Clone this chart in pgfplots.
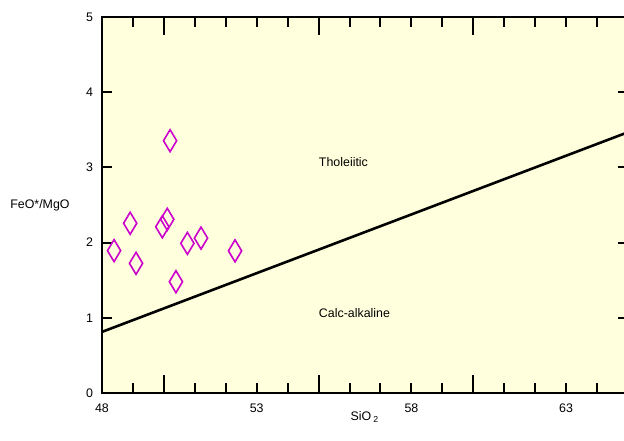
\documentclass[border=0pt]{standalone}
\usepackage{fontspec}
\setmainfont{Liberation Sans}
\usepackage{pgfplots}
\pgfplotsset{compat=1.18}
\definecolor{bgy}{RGB}{255,255,221}
\definecolor{mag}{RGB}{204,0,204}
\begin{document}
\begin{tikzpicture}
\useasboundingbox (0,0) rectangle (312bp,220.5bp);
\begin{axis}[
  at={(51bp,24bp)}, anchor=south west,
  width=263bp, height=188bp, scale only axis,
  xmin=48, xmax=65, ymin=0, ymax=5,
  axis background/.style={fill=bgy},
  axis line style={line width=1bp, black},
  every tick/.style={line width=1bp, black},
  tick align=inside,
  major tick length=5bp,
  xtick={48,...,65},
  xticklabels={48,,,,,53,,,,,58,,,,,63,,},
  extra x ticks={50,55,60,65},
  extra x tick labels={},
  extra x tick style={major tick length=9bp},
  ytick={0,1,2,3,4,5},
  minor tick num=0,
  font=\fontsize{6.2bp}{7bp}\selectfont,
  /pgf/number format/assume math mode=true,
  xticklabel style={yshift=-2bp},
  yticklabel style={xshift=-1bp},
  xlabel={SiO\,\textsubscript{2}},
  every axis x label/.style={at={(axis description cs:0.5,-0.064)}, anchor=center},
  ylabel={FeO*/MgO},
  every axis y label/.style={at={(axis description cs:-0.175,0.5)}, anchor=west, inner sep=0pt},
  clip=false,
]
\addplot[black, line width=1.3bp] coordinates {(48,0.8126) (65,3.468)};
\addplot[only marks, mark=diamond, mark size=5.5bp, mark options={draw=mag, fill=none, line width=0.8bp, xscale=0.8}] coordinates {
(50.20,3.355)
(48.91,2.257)
(48.39,1.893)
(49.10,1.724)
(49.95,2.21)
(50.11,2.31)
(50.39,1.48)
(50.76,1.99)
(51.20,2.06)
(52.30,1.89)
};
\node[anchor=west, inner sep=0pt] at (axis cs:55,3.07) {Tholeiitic};
\node[anchor=west, inner sep=0pt] at (axis cs:55,1.06) {Calc-alkaline};
\end{axis}
\end{tikzpicture}
\end{document}
